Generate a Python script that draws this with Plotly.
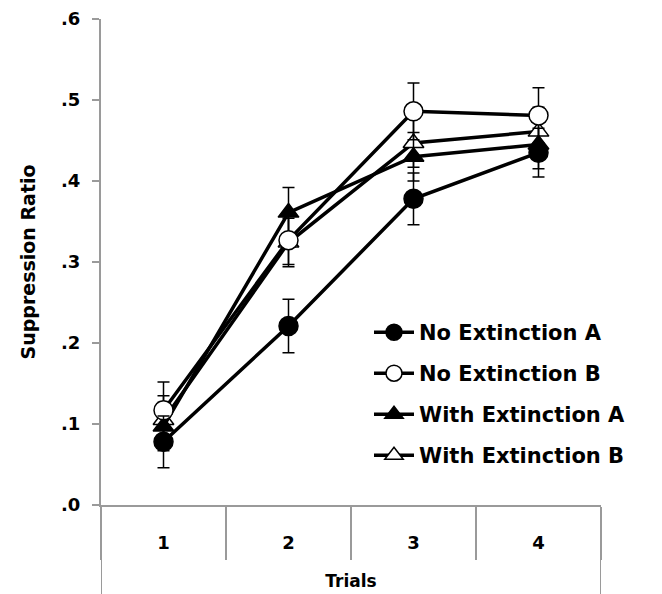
import plotly.graph_objects as go

trials = [1, 2, 3, 4]
trial_labels = ["1", "2", "3", "4"]
y_ticks = [0.0, 0.1, 0.2, 0.3, 0.4, 0.5, 0.6]
y_tick_labels = [".0", ".1", ".2", ".3", ".4", ".5", ".6"]

names = ["No Extinction A", "No Extinction B", "With Extinction A", "With Extinction B"]
no_ext_a = [0.078, 0.221, 0.378, 0.435]
no_ext_b = [0.117, 0.327, 0.486, 0.481]
with_ext_a = [0.097, 0.361, 0.430, 0.445]
with_ext_b = [0.105, 0.324, 0.447, 0.461]
err_no_ext_a = [0.032, 0.033, 0.032, 0.030]
err_no_ext_b = [0.035, 0.030, 0.035, 0.034]
err_with_ext_a = [0.030, 0.031, 0.030, 0.030]
err_with_ext_b = [0.030, 0.030, 0.030, 0.030]

FONT = "DejaVu Sans"
series = [
    (names[3], with_ext_b, err_with_ext_b, "triangle-up", "white", 4),
    (names[2], with_ext_a, err_with_ext_a, "triangle-up", "black", 3),
    (names[1], no_ext_b, err_no_ext_b, "circle", "white", 2),
    (names[0], no_ext_a, err_no_ext_a, "circle", "black", 1),
]

fig = go.Figure()
for name, vals, errs, sym, fill, rank in series:
    fig.add_trace(go.Scatter(
        x=trials, y=vals, name=name, mode="lines+markers",
        legendrank=rank, legendgroup=name,
        line=dict(color="black", width=3.5),
        marker=dict(symbol=sym, size=19 if sym == "circle" else 18, color=fill,
                    line=dict(color="black", width=1.5)),
        error_y=dict(type="data", array=errs, visible=True, color="black",
                     thickness=1.5, width=6),
    ))

axis_grey = "#9a9a9a"
fig.update_layout(
    width=662, height=594,
    margin=dict(l=101, r=61, t=19, b=89),
    paper_bgcolor="white", plot_bgcolor="white",
    showlegend=True,
    font=dict(family=FONT, color="black"),
    legend=dict(x=0.536, y=0.397, xanchor="left", yanchor="top",
                bgcolor="rgba(0,0,0,0)", tracegroupgap=10.7,
                font=dict(family=FONT, size=21, weight="bold"),
                itemwidth=40),
    xaxis=dict(range=[0.5, 4.5], tickvals=trials, ticktext=trial_labels,
               automargin=False,
               showline=True, linecolor=axis_grey, linewidth=2,
               showgrid=False, zeroline=False, ticks="",
               tickfont=dict(family=FONT, size=18, weight="bold"),
               ticklabelstandoff=20,
               minor=dict(tick0=0.5, dtick=1, ticks="outside", ticklen=53,
                          tickcolor=axis_grey, tickwidth=2, showgrid=False),
               title=dict(text="Trials", font=dict(family=FONT, size=17, weight="bold"),
                          standoff=24)),
    yaxis=dict(range=[0, 0.6], tickvals=y_ticks, ticktext=y_tick_labels,
               automargin=False,
               showline=True, linecolor=axis_grey, linewidth=2,
               showgrid=False, zeroline=False,
               ticks="outside", ticklen=7, tickcolor=axis_grey, tickwidth=2,
               ticklabelstandoff=8,
               tickfont=dict(family=FONT, size=18, weight="bold"),
               title=dict(text="Suppression Ratio",
                          font=dict(family=FONT, size=19, weight="bold"), standoff=20)),
)

# extend left and right frame lines below the axis
for xv in [0.5, 4.5]:
    fig.add_shape(type="line", xref="x", yref="paper", x0=xv, x1=xv, y0=0, y1=-0.19,
                  line=dict(color=axis_grey, width=2))

fig.write_html("out.html")
